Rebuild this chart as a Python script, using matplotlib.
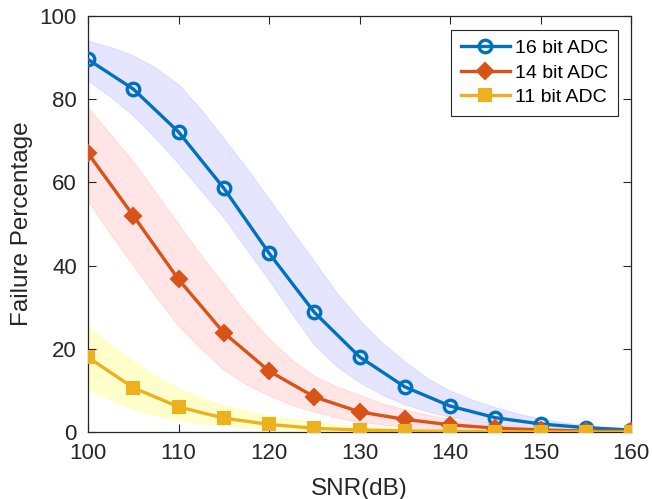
import matplotlib
matplotlib.use("Agg")
import matplotlib.pyplot as plt

# SNR sweep (dB) at which the failure rate was evaluated
snr = [100, 105, 110, 115, 120, 125, 130, 135, 140, 145, 150, 155, 160]

# Mean failure percentage per ADC resolution
fail_16 = [89.5, 82.4, 72.1, 58.6, 43.0, 28.8, 18.1, 10.9, 6.3, 3.5, 2.0, 1.1, 0.55]
fail_14 = [67.0, 52.0, 36.7, 23.9, 14.7, 8.5, 4.9, 3.1, 1.8, 1.0, 0.55, 0.3, 0.2]
fail_11 = [18.0, 10.7, 6.1, 3.4, 1.9, 0.95, 0.55, 0.35, 0.2, 0.12, 0.08, 0.05, 0.03]

# Spread bands, sampled on a finer SNR grid
snr_band = [100, 102.5, 105, 107.5, 110, 112.5, 115, 117.5, 120, 122.5, 125,
            127.5, 130, 132.5, 135, 137.5, 140, 142.5, 145, 147.5, 150,
            152.5, 155, 157.5, 160]
upper_16 = [94.0, 92.5, 90.5, 87.5, 83.5, 77.5, 70.5, 63.5, 56.0, 48.5, 41.0,
            33.5, 27.0, 21.5, 17.0, 13.0, 10.0, 7.8, 6.0, 4.5, 3.3,
            2.4, 1.7, 1.2, 0.8]
lower_16 = [84.5, 80.5, 76.0, 70.5, 64.5, 58.0, 51.5, 44.0, 36.5, 28.5, 21.0,
            15.8, 12.0, 9.0, 6.7, 5.0, 3.7, 2.7, 2.0, 1.5, 1.1,
            0.8, 0.6, 0.4, 0.3]
upper_14 = [78.0, 71.5, 65.0, 57.5, 50.0, 42.5, 35.5, 28.5, 22.5, 17.5, 13.5,
            11.0, 9.0, 7.0, 5.5, 4.2, 3.2, 2.4, 1.8, 1.3, 1.0,
            0.7, 0.5, 0.4, 0.3]
lower_14 = [55.5, 47.5, 40.0, 32.5, 25.5, 20.0, 15.0, 11.5, 8.8, 6.6, 4.9,
            3.5, 2.5, 1.8, 1.3, 0.95, 0.7, 0.5, 0.4, 0.3, 0.2,
            0.15, 0.1, 0.07, 0.05]
upper_11 = [25.5, 21.0, 17.0, 13.5, 10.5, 8.3, 6.5, 5.1, 4.0, 3.2, 2.5,
            1.9, 1.5, 1.15, 0.9, 0.7, 0.5, 0.4, 0.3, 0.25, 0.2,
            0.15, 0.1, 0.07, 0.05]
lower_11 = [10.5, 7.8, 5.6, 4.1, 3.0, 2.2, 1.6, 1.15, 0.8, 0.6, 0.4,
            0.3, 0.2, 0.15, 0.1, 0.08, 0.05, 0.04, 0.03, 0.02, 0.02,
            0.01, 0.01, 0.01, 0.01]

labels = ["16 bit ADC", "14 bit ADC", "11 bit ADC"]

plt.rcParams['font.family'] = ['Liberation Sans', 'DejaVu Sans']

fig = plt.figure(figsize=(6.52, 4.99), dpi=100)
ax = fig.add_axes([0.135, 0.1337, 0.833, 0.8348])

axis_col = '#262626'

# shaded spread bands
ax.fill_between(snr_band, lower_16, upper_16, facecolor=(0, 0, 1, 0.10),
                edgecolor=(0, 0, 1, 0.08), linewidth=0.8, zorder=1)
ax.fill_between(snr_band, lower_14, upper_14, facecolor=(1, 0, 0, 0.10),
                edgecolor=(1, 0, 0, 0.08), linewidth=0.8, zorder=1)
ax.fill_between(snr_band, lower_11, upper_11, facecolor=(1, 1, 0, 0.20),
                edgecolor=(1, 1, 0, 0.15), linewidth=0.8, zorder=1)

c16, c14, c11 = '#0072BD', '#D95319', '#EDB120'
ax.plot(snr, fail_16, color=c16, lw=2.4, marker='o', ms=9, mew=2.4,
        mfc='none', mec=c16, label=labels[0], zorder=3)
ax.plot(snr, fail_14, color=c14, lw=2.4, marker='D', ms=8, mew=1.5,
        mfc=c14, mec=c14, label=labels[1], zorder=4)
ax.plot(snr, fail_11, color=c11, lw=2.4, marker='s', ms=8, mew=1.5,
        mfc=c11, mec=c11, label=labels[2], zorder=5)

ax.set_xlim(100, 160)
ax.set_ylim(0, 100)
ax.set_xticks(range(100, 161, 10))
ax.set_yticks(range(0, 101, 20))
ax.tick_params(direction='in', length=6, width=0.8, top=True, right=True,
               labelsize=16, colors=axis_col, pad=8)
for sp in ax.spines.values():
    sp.set_color(axis_col)
    sp.set_linewidth(0.9)

ax.set_xlabel('SNR(dB)', fontsize=17.5, color=axis_col, labelpad=10)
ax.set_ylabel('Failure Percentage', fontsize=17.5, color=axis_col, labelpad=5)

leg = ax.legend(loc='upper right', fontsize=14, frameon=True, fancybox=False,
                edgecolor=axis_col, framealpha=1, handlelength=2.55,
                borderpad=0.5, labelspacing=0.35, handletextpad=0.25,
                borderaxespad=0, bbox_to_anchor=(0.976, 0.966))
leg.get_frame().set_linewidth(0.8)

fig.savefig('out.png', dpi=100)
